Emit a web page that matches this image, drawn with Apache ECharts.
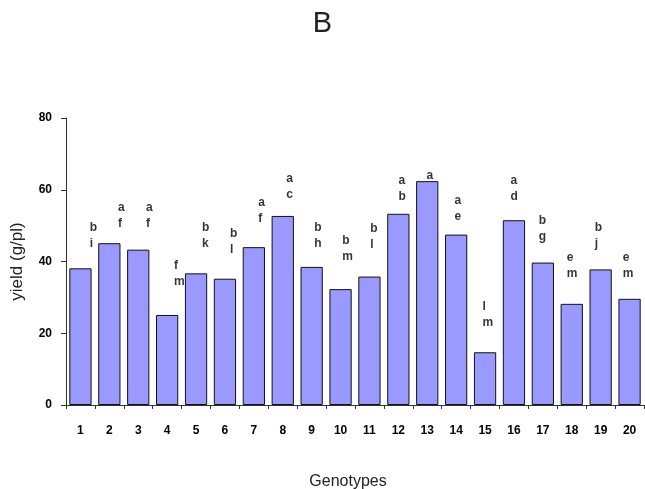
<!DOCTYPE html>
<html>
<head>
<meta charset="utf-8">
<script src="https://cdn.jsdelivr.net/npm/echarts@6/dist/echarts.min.js"></script>
<style>
  html, body { margin: 0; padding: 0; background: #fff; }
  #chart { width: 645px; height: 489px; }
</style>
</head>
<body>
<div id="chart"></div>
<script>
// Genotype numbers on the category axis
const genotypes = ['1','2','3','4','5','6','7','8','9','10','11','12','13','14','15','16','17','18','19','20'];

// Mean yield per plant (g/pl)
const yieldValues = [38.1, 45.1, 43.3, 25.1, 36.7, 35.2, 44.0, 52.7, 38.5, 32.3,
                     35.8, 53.3, 62.4, 47.5, 14.7, 51.5, 39.7, 28.2, 37.8, 29.6];

// Significance letter groups shown above each bar
const letterGroups = ['b\ni', 'a\nf', 'a\nf', 'f\nm', 'b\nk', 'b\nl', 'a\nf', 'a\nc', 'b\nh', 'b\nm',
                      'b\nl', 'a\nb', 'a', 'a\ne', 'l\nm', 'a\nd', 'b\ng', 'e\nm', 'b\nj', 'e\nm'];

// Yield level on which each letter group rests
const letterBase = [42.6, 48.2, 48.2, 32.1, 42.6, 41.0, 49.6, 56.3, 42.6, 39.1,
                    42.4, 55.8, 61.8, 50.2, 20.6, 55.8, 44.7, 34.3, 42.6, 34.3];

// Y axis ticks
const yTicks = { min: 0, max: 80, step: 20 };

const chart = echarts.init(document.getElementById('chart'), null, { renderer: 'canvas' });

const baseFont = 'Liberation Sans, Arial, sans-serif';

chart.setOption({
  animation: false,
  backgroundColor: '#ffffff',
  title: {
    text: 'B',
    left: 'center',
    top: 4,
    textStyle: { fontFamily: baseFont, fontSize: 29, fontWeight: 'normal', color: '#222' }
  },
  grid: { left: 66, right: 1, top: 118, bottom: 84, containLabel: false, outerBoundsMode: 'none' },
  xAxis: {
    type: 'category',
    data: genotypes,
    name: 'Genotypes',
    nameLocation: 'middle',
    nameGap: 69,
    nameTextStyle: { fontFamily: baseFont, fontSize: 16, color: '#222', padding: [0, 14, 0, 0] },
    axisLine: { lineStyle: { color: '#333', width: 1 } },
    axisTick: { show: true, length: 4, interval: 0, lineStyle: { color: '#333' } },
    axisLabel: { interval: 0, margin: 20, fontFamily: baseFont, fontSize: 12, fontWeight: 'bold', color: '#000' },
    splitLine: { show: false }
  },
  yAxis: {
    type: 'value',
    min: yTicks.min,
    max: yTicks.max,
    interval: yTicks.step,
    name: 'yield (g/pl)',
    nameLocation: 'middle',
    nameGap: 40,
    nameTextStyle: { fontFamily: baseFont, fontSize: 17, color: '#222' },
    axisLine: { show: true, lineStyle: { color: '#333', width: 1 } },
    axisTick: { show: true, length: 5, lineStyle: { color: '#333' } },
    axisLabel: { margin: 14, fontFamily: baseFont, fontSize: 12, fontWeight: 'bold', color: '#000' },
    splitLine: { show: false }
  },
  series: [
    {
      type: 'bar',
      data: yieldValues,
      barCategoryGap: '23%',
      itemStyle: { color: '#9999ff', borderColor: '#111', borderWidth: 1 },
      z: 2
    },
    {
      type: 'scatter',
      data: letterBase.map((v, i) => [i, v]),
      symbolSize: 0,
      silent: true,
      z: 3,
      label: {
        show: true,
        position: 'top',
        distance: 0,
        align: 'left',
        fontFamily: baseFont,
        fontSize: 12,
        fontWeight: 'bold',
        lineHeight: 16,
        color: '#000',
        formatter: p => letterGroups[p.dataIndex]
      },
      labelLayout: p => ({ dx: 9.4 - 0.85 * p.dataIndex })
    }
  ]
});
</script>
</body>
</html>
